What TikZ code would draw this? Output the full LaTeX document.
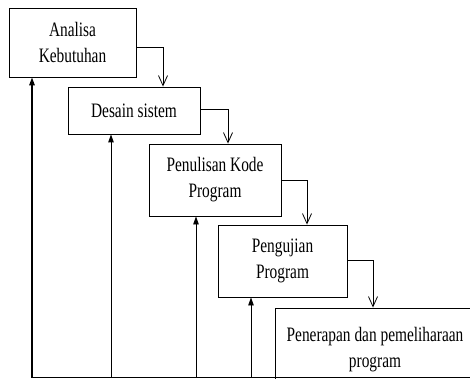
\documentclass[tikz,border=0pt]{standalone}
\usepackage{fontspec}
\setmainfont{Liberation Serif}[FakeStretch=0.75]
\usetikzlibrary{arrows.meta}
\begin{document}
\begin{tikzpicture}[x=1pt,y=-1pt,
  box/.style={draw, line width=0.9pt, inner sep=0pt, align=center, font=\fontsize{20.5}{26}\selectfont},
  flow/.style={draw, line width=0.8pt, -{Straight Barb[length=10pt,width=9pt,line width=0.8pt]}},
  fb/.style={draw, line width=0.9pt, -{Triangle[length=8pt,width=5.5pt]}}
]
\useasboundingbox (0,0) rectangle (470,379);
\clip (0,0) rectangle (470,379);
\node[box, minimum width=127pt, minimum height=69pt] (b1) at (72.5,42.5) {Analisa\\Kebutuhan};
\node[box, minimum width=132pt, minimum height=47pt] (b2) at (134,110.5) {Desain sistem};
\node[box, minimum width=132pt, minimum height=72pt] (b3) at (215,180) {Penulisan Kode\\Program};
\node[box, minimum width=129pt, minimum height=72pt] (b4) at (282.5,261) {Pengujian\\Program};
\node[box, minimum width=200pt, minimum height=84pt] (b5) at (375,350) {Penerapan dan pemeliharaan\\program};
\draw[flow] ([yshift=-4.5pt]b1.east) -| ([xshift=29pt]b2.north);
\draw[flow] ([yshift=1.5pt]b2.east) -| ([xshift=13pt]b3.north);
\draw[flow] (b3.east) -| ([xshift=24.5pt]b4.north);
\draw[flow] ([yshift=1pt]b4.east) -| ([xshift=-2pt]b5.north);
\coordinate (fl) at (32,377.5);
\draw[line width=1.4pt] (b5.east |- fl) -- (fl);
\draw[fb, line width=1.4pt] (fl) -- (fl |- b1.south);
\draw[fb] ([xshift=-23pt]b2.south |- fl) -- ([xshift=-23pt]b2.south);
\draw[fb] ([xshift=-19pt]b3.south |- fl) -- ([xshift=-19pt]b3.south);
\draw[fb] ([xshift=-31.5pt]b4.south |- fl) -- ([xshift=-31.5pt]b4.south);
\end{tikzpicture}
\end{document}
